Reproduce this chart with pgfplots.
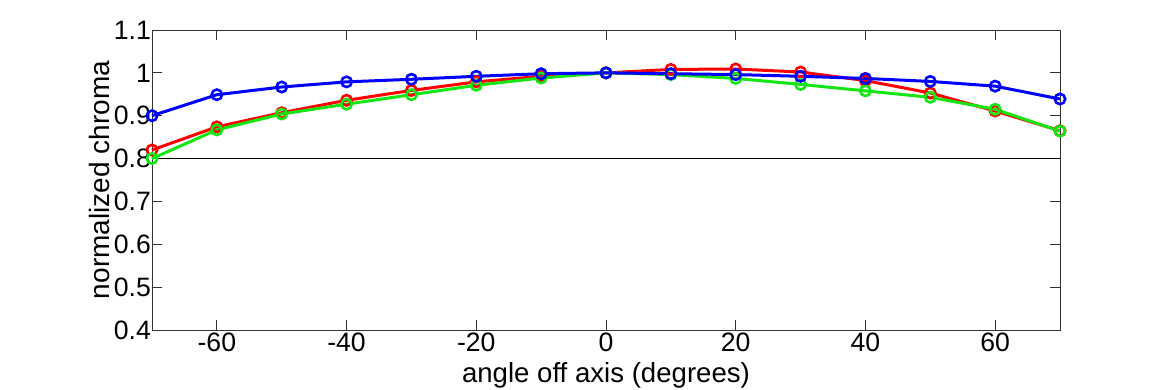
\documentclass[border=0pt]{standalone}
\usepackage{fontspec}
\setmainfont{Liberation Sans}
\usepackage{pgfplots}
\pgfplotsset{compat=1.18}
\definecolor{mred}{RGB}{255,0,0}
\definecolor{mgreen}{RGB}{20,230,20}
\definecolor{mblue}{RGB}{0,0,255}
\begin{document}
\begin{tikzpicture}
\useasboundingbox (-76pt,-30pt) rectangle (509pt,165pt);
\begin{axis}[
  at={(0,0)}, anchor=south west,
  scale only axis, width=454pt, height=150pt,
  xmin=-70, xmax=70, ymin=0.4, ymax=1.1,
  xtick={-60,-40,-20,0,20,40,60},
  ytick={0.4,0.5,0.6,0.7,0.8,0.9,1,1.1},
  yticklabels={0.4,0.5,0.6,0.7,0.8,0.9,1,1.1},
  tick align=inside, major tick length=5pt,
  tick style={black!80, line width=0.5pt},
  axis line style={line width=0.5pt, black!80},
  font=\fontsize{13.3pt}{15pt}\selectfont,
  /pgf/number format/assume math mode=true,
  xlabel={angle off axis (degrees)},
  ylabel={normalized chroma},
  xlabel style={at={(axis description cs:0.5,0)}, anchor=center, yshift=-22.5pt, font=\fontsize{13.8pt}{15pt}\selectfont},
  ylabel style={at={(axis description cs:-0.058,0.5)}, anchor=center, font=\fontsize{14pt}{15pt}\selectfont},
  xticklabel style={yshift=2pt},
  yticklabel style={xshift=3pt},
  clip=false,
]
\addplot[black, line width=0.8pt, forget plot] coordinates {(-70,0.8) (70,0.8)};
\addplot[mred, line width=1.5pt, mark=o, mark size=2.6pt, mark options={line width=1.3pt}] coordinates {
(-70,0.820) (-60,0.874) (-50,0.907) (-40,0.936) (-30,0.959) (-20,0.979) (-10,0.992) (0,1.000)
(10,1.008) (20,1.009) (30,1.002) (40,0.982) (50,0.953) (60,0.911) (70,0.865)};
\addplot[mgreen, line width=1.5pt, mark=o, mark size=2.6pt, mark options={line width=1.3pt}] coordinates {
(-70,0.800) (-60,0.867) (-50,0.904) (-40,0.927) (-30,0.949) (-20,0.971) (-10,0.988) (0,1.000)
(10,0.996) (20,0.987) (30,0.973) (40,0.958) (50,0.943) (60,0.915) (70,0.864)};
\addplot[mblue, line width=1.5pt, mark=o, mark size=2.6pt, mark options={line width=1.3pt}] coordinates {
(-70,0.900) (-60,0.949) (-50,0.967) (-40,0.979) (-30,0.985) (-20,0.992) (-10,0.998) (0,1.000)
(10,0.998) (20,0.996) (30,0.992) (40,0.987) (50,0.980) (60,0.969) (70,0.939)};
\end{axis}
\end{tikzpicture}
\end{document}
